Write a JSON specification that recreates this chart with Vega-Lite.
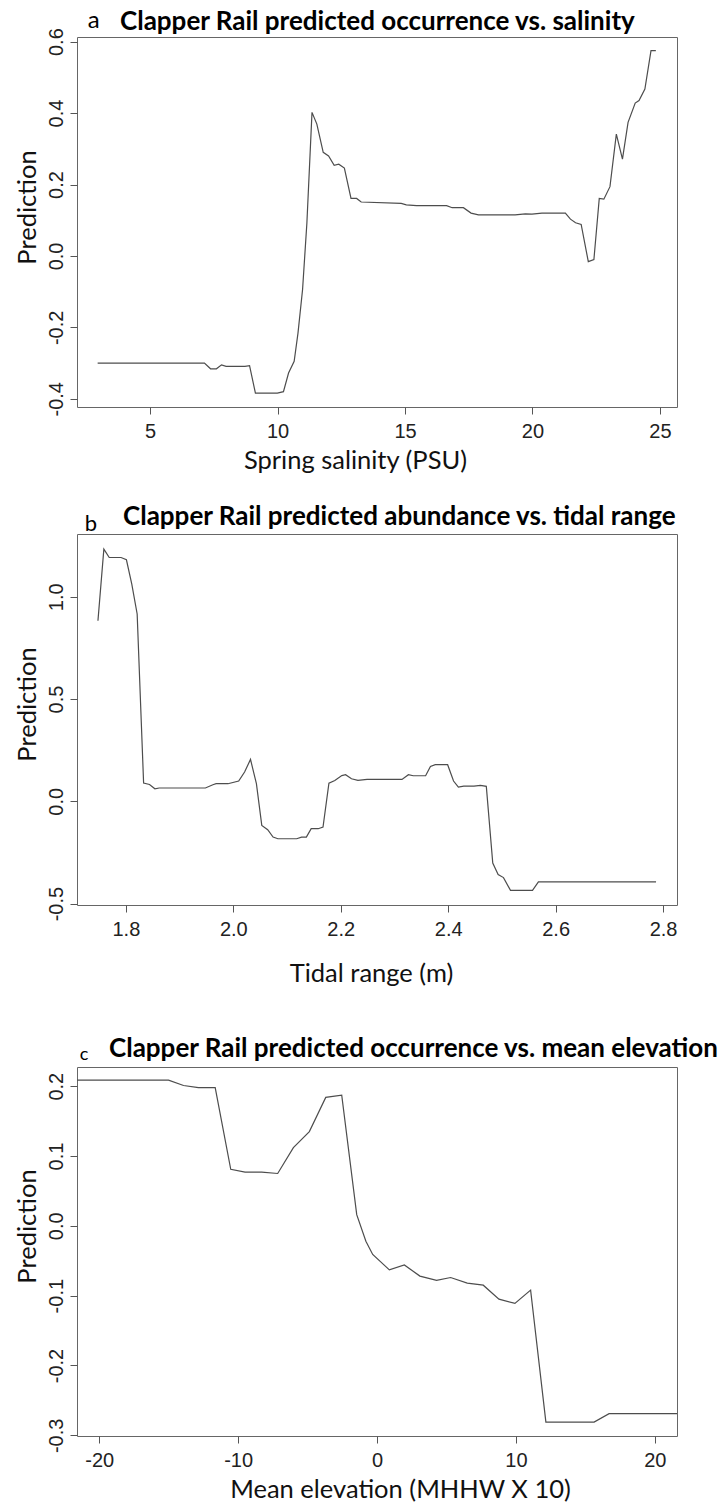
{
  "$schema": "https://vega.github.io/schema/vega-lite/v6.json",
  "background": "white",
  "padding": {"left": 14, "top": 8, "right": 0, "bottom": 0},
  "spacing": 48,
  "config": {
    "view": {"stroke": "#666666", "strokeWidth": 1},
    "axis": {
      "grid": false,
      "domain": false,
      "tickColor": "#555555",
      "tickSize": 7,
      "labelFont": "Liberation Sans",
      "labelFontSize": 20,
      "labelColor": "#222222",
      "labelPadding": 7,
      "labelExpr": "replace(datum.label, '\u2212', '-')",
      "titleFont": "Lato",
      "titleFontSize": 25.5,
      "titleFontWeight": "normal",
      "titleColor": "#111111"
    },
    "axisX": {"titleBaseline": "alphabetic", "titleAlign": "center", "labelFlush": false, "labelOverlap": false},
    "axisY": {"labelAngle": -90, "labelAlign": "center", "labelBaseline": "alphabetic", "labelPadding": 8, "titleBaseline": "alphabetic", "titleAlign": "center", "titlePadding": 11, "labelFlush": false, "labelOverlap": false},
    "title": {"font": "Lato", "fontSize": 26, "fontWeight": "bold", "anchor": "start", "frame": "group", "color": "#000000", "baseline": "alphabetic"}
  },
  "vconcat": [
    {
      "spacing": 29,
      "vconcat": [
        {
          "width": 600,
          "height": 370,
          "title": {"text": "Clapper Rail predicted occurrence vs. salinity", "dx": 43, "offset": -26},
          "layer": [
            {
              "data": {"values": [
                {"salinity": 2.94, "pred": -0.30}, {"salinity": 7.13, "pred": -0.30}, {"salinity": 7.37, "pred": -0.316}, {"salinity": 7.6, "pred": -0.316},
                {"salinity": 7.8, "pred": -0.305}, {"salinity": 7.98, "pred": -0.309}, {"salinity": 8.72, "pred": -0.309}, {"salinity": 8.9, "pred": -0.307},
                {"salinity": 9.13, "pred": -0.384}, {"salinity": 9.99, "pred": -0.384}, {"salinity": 10.23, "pred": -0.38}, {"salinity": 10.43, "pred": -0.328},
                {"salinity": 10.65, "pred": -0.295}, {"salinity": 10.8, "pred": -0.216}, {"salinity": 10.98, "pred": -0.094}, {"salinity": 11.15, "pred": 0.093},
                {"salinity": 11.35, "pred": 0.402}, {"salinity": 11.54, "pred": 0.369}, {"salinity": 11.79, "pred": 0.29}, {"salinity": 12.0, "pred": 0.28},
                {"salinity": 12.22, "pred": 0.254}, {"salinity": 12.4, "pred": 0.257}, {"salinity": 12.62, "pred": 0.246}, {"salinity": 12.88, "pred": 0.161},
                {"salinity": 13.1, "pred": 0.161}, {"salinity": 13.28, "pred": 0.151}, {"salinity": 14.85, "pred": 0.147}, {"salinity": 15.05, "pred": 0.143},
                {"salinity": 15.45, "pred": 0.141}, {"salinity": 16.63, "pred": 0.141}, {"salinity": 16.85, "pred": 0.135}, {"salinity": 17.29, "pred": 0.135},
                {"salinity": 17.59, "pred": 0.12}, {"salinity": 17.88, "pred": 0.115}, {"salinity": 19.32, "pred": 0.115}, {"salinity": 19.72, "pred": 0.118},
                {"salinity": 19.98, "pred": 0.117}, {"salinity": 20.37, "pred": 0.12}, {"salinity": 21.29, "pred": 0.12}, {"salinity": 21.49, "pred": 0.103},
                {"salinity": 21.69, "pred": 0.093}, {"salinity": 21.91, "pred": 0.088}, {"salinity": 22.19, "pred": -0.016}, {"salinity": 22.41, "pred": -0.01},
                {"salinity": 22.62, "pred": 0.161}, {"salinity": 22.8, "pred": 0.159}, {"salinity": 23.04, "pred": 0.194}, {"salinity": 23.29, "pred": 0.341},
                {"salinity": 23.53, "pred": 0.271}, {"salinity": 23.75, "pred": 0.374}, {"salinity": 24.03, "pred": 0.428}, {"salinity": 24.18, "pred": 0.435},
                {"salinity": 24.41, "pred": 0.467}, {"salinity": 24.65, "pred": 0.575}, {"salinity": 24.84, "pred": 0.575}
              ]},
              "mark": {"type": "line", "color": "#4d4d4d", "strokeWidth": 1.2},
              "encoding": {
                "x": {"field": "salinity", "type": "quantitative", "scale": {"domain": [2.13, 25.67], "nice": false, "zero": false},
                      "axis": {"values": [5, 10, 15, 20, 25], "title": "Spring salinity (PSU)", "titlePadding": 27, "titleX": 278}},
                "y": {"field": "pred", "type": "quantitative", "scale": {"domain": [-0.423, 0.613], "nice": false, "zero": false},
                      "axis": {"values": [-0.4, -0.2, 0, 0.2, 0.4, 0.6], "format": ".1f", "title": "Prediction", "titleY": 170}}
              }
            },
            {
              "data": {"values": [{"panel": "a"}]},
              "mark": {"type": "text", "font": "Lato", "fontSize": 24, "align": "center", "baseline": "alphabetic", "color": "#000000"},
              "encoding": {
                "text": {"field": "panel"},
                "x": {"datum": 2.785},
                "y": {"datum": 0.639}
              }
            }
          ]
        },
        {
          "width": 600,
          "height": 371,
          "title": {"text": "Clapper Rail predicted abundance vs. tidal range", "dx": 46, "offset": -17},
          "layer": [
            {
              "data": {"values": [
                {"tidal": 1.748, "pred": 0.883}, {"tidal": 1.759, "pred": 1.233}, {"tidal": 1.769, "pred": 1.192}, {"tidal": 1.791, "pred": 1.192},
                {"tidal": 1.801, "pred": 1.181}, {"tidal": 1.811, "pred": 1.062}, {"tidal": 1.821, "pred": 0.916}, {"tidal": 1.833, "pred": 0.089},
                {"tidal": 1.844, "pred": 0.082}, {"tidal": 1.854, "pred": 0.061}, {"tidal": 1.862, "pred": 0.065}, {"tidal": 1.948, "pred": 0.065},
                {"tidal": 1.962, "pred": 0.081}, {"tidal": 1.968, "pred": 0.086}, {"tidal": 1.99, "pred": 0.086}, {"tidal": 2.01, "pred": 0.099},
                {"tidal": 2.021, "pred": 0.143}, {"tidal": 2.032, "pred": 0.205}, {"tidal": 2.043, "pred": 0.086}, {"tidal": 2.053, "pred": -0.118},
                {"tidal": 2.064, "pred": -0.139}, {"tidal": 2.074, "pred": -0.175}, {"tidal": 2.083, "pred": -0.183}, {"tidal": 2.118, "pred": -0.183},
                {"tidal": 2.127, "pred": -0.175}, {"tidal": 2.136, "pred": -0.175}, {"tidal": 2.145, "pred": -0.134}, {"tidal": 2.158, "pred": -0.134},
                {"tidal": 2.167, "pred": -0.126}, {"tidal": 2.178, "pred": 0.089}, {"tidal": 2.189, "pred": 0.102}, {"tidal": 2.202, "pred": 0.126},
                {"tidal": 2.209, "pred": 0.13}, {"tidal": 2.22, "pred": 0.11}, {"tidal": 2.232, "pred": 0.102}, {"tidal": 2.249, "pred": 0.107},
                {"tidal": 2.314, "pred": 0.107}, {"tidal": 2.326, "pred": 0.13}, {"tidal": 2.335, "pred": 0.125}, {"tidal": 2.358, "pred": 0.125},
                {"tidal": 2.367, "pred": 0.17}, {"tidal": 2.376, "pred": 0.179}, {"tidal": 2.399, "pred": 0.179}, {"tidal": 2.41, "pred": 0.099},
                {"tidal": 2.419, "pred": 0.069}, {"tidal": 2.429, "pred": 0.074}, {"tidal": 2.448, "pred": 0.074}, {"tidal": 2.46, "pred": 0.078},
                {"tidal": 2.471, "pred": 0.073}, {"tidal": 2.483, "pred": -0.302}, {"tidal": 2.493, "pred": -0.358}, {"tidal": 2.503, "pred": -0.373},
                {"tidal": 2.516, "pred": -0.435}, {"tidal": 2.557, "pred": -0.435}, {"tidal": 2.568, "pred": -0.394}, {"tidal": 2.787, "pred": -0.394}
              ]},
              "mark": {"type": "line", "color": "#4d4d4d", "strokeWidth": 1.2},
              "encoding": {
                "x": {"field": "tidal", "type": "quantitative", "scale": {"domain": [1.709, 2.826], "nice": false, "zero": false},
                      "axis": {"values": [1.8, 2.0, 2.2, 2.4, 2.6, 2.8], "format": ".1f", "title": "Tidal range (m)", "titlePadding": 42, "titleX": 294}},
                "y": {"field": "pred", "type": "quantitative", "scale": {"domain": [-0.507, 1.307], "nice": false, "zero": false},
                      "axis": {"values": [-0.5, 0, 0.5, 1.0], "format": ".1f", "title": "Prediction", "titleY": 170}}
              }
            },
            {
              "data": {"values": [{"panel": "b"}]},
              "mark": {"type": "text", "font": "Lato", "fontSize": 22, "align": "center", "baseline": "alphabetic", "color": "#000000"},
              "encoding": {
                "text": {"field": "panel"},
                "x": {"datum": 1.735},
                "y": {"datum": 1.323}
              }
            }
          ]
        }
      ]
    },
    {
      "width": 600,
      "height": 369,
      "title": {"text": "Clapper Rail predicted occurrence vs. mean elevation", "dx": 32, "offset": -16},
      "layer": [
        {
          "data": {"values": [
            {"elev": -21.6, "pred": 0.2086}, {"elev": -15.01, "pred": 0.2086}, {"elev": -13.93, "pred": 0.201}, {"elev": -12.86, "pred": 0.198},
            {"elev": -11.65, "pred": 0.198}, {"elev": -10.53, "pred": 0.081}, {"elev": -9.5, "pred": 0.077}, {"elev": -8.3, "pred": 0.077},
            {"elev": -7.15, "pred": 0.075}, {"elev": -6.02, "pred": 0.112}, {"elev": -4.87, "pred": 0.135}, {"elev": -3.69, "pred": 0.184},
            {"elev": -2.54, "pred": 0.187}, {"elev": -1.46, "pred": 0.016}, {"elev": -0.8, "pred": -0.022}, {"elev": -0.31, "pred": -0.041},
            {"elev": 0.89, "pred": -0.063}, {"elev": 1.97, "pred": -0.056}, {"elev": 3.09, "pred": -0.072}, {"elev": 4.29, "pred": -0.078},
            {"elev": 5.3, "pred": -0.074}, {"elev": 6.5, "pred": -0.082}, {"elev": 7.65, "pred": -0.085}, {"elev": 8.78, "pred": -0.105},
            {"elev": 9.93, "pred": -0.111}, {"elev": 11.06, "pred": -0.092}, {"elev": 12.16, "pred": -0.281}, {"elev": 15.63, "pred": -0.281},
            {"elev": 16.71, "pred": -0.269}, {"elev": 21.6, "pred": -0.269}
          ]},
          "mark": {"type": "line", "color": "#4d4d4d", "strokeWidth": 1.2},
          "encoding": {
            "x": {"field": "elev", "type": "quantitative", "scale": {"domain": [-21.6, 21.6], "nice": false, "zero": false},
                  "axis": {"values": [-20, -10, 0, 10, 20], "title": "Mean elevation (MHHW X 10)", "titlePadding": 27, "titleX": 323}},
            "y": {"field": "pred", "type": "quantitative", "scale": {"domain": [-0.301, 0.2275], "nice": false, "zero": false},
                  "axis": {"values": [-0.3, -0.2, -0.1, 0, 0.1, 0.2], "format": ".1f", "title": "Prediction", "titleY": 159}}
          }
        },
        {
          "data": {"values": [{"panel": "c"}]},
          "mark": {"type": "text", "font": "Lato", "fontSize": 18, "align": "center", "baseline": "alphabetic", "color": "#000000"},
          "encoding": {
            "text": {"field": "panel"},
            "x": {"datum": -21.1},
            "y": {"datum": 0.2369}
          }
        }
      ]
    }
  ]
}
